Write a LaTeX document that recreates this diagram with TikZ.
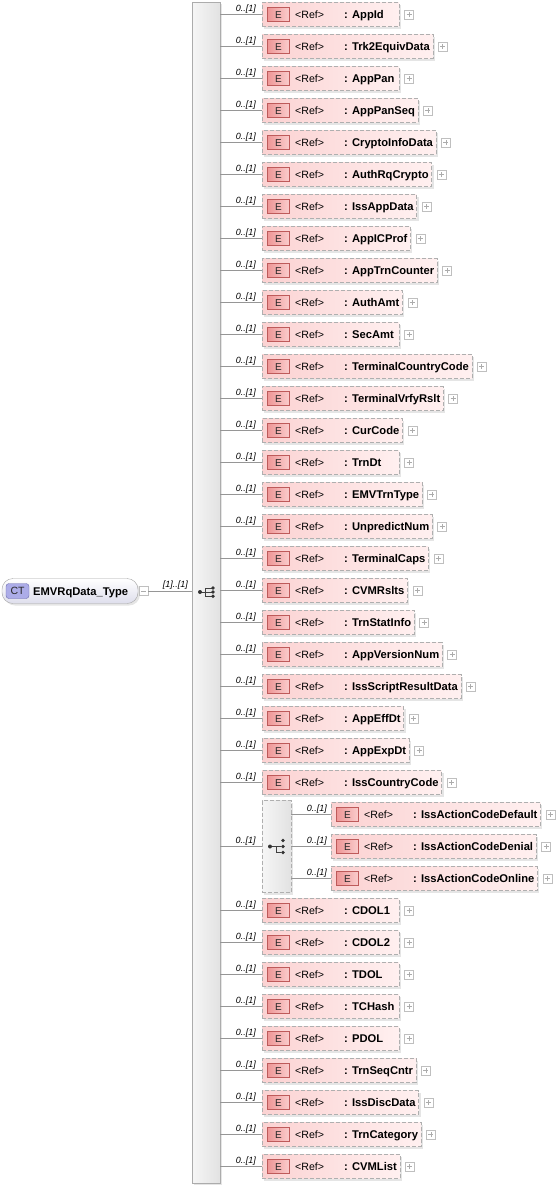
\documentclass[tikz,border=0pt]{standalone}
\usepackage{fontspec}
\setmainfont{Liberation Sans}
\usetikzlibrary{shadows,calc}

\definecolor{boxborder}{RGB}{175,175,175}
\definecolor{pinkL}{RGB}{251,210,210}
\definecolor{pinkR}{RGB}{255,240,240}
\definecolor{badgeL}{RGB}{238,150,150}
\definecolor{badgeR}{RGB}{250,205,205}
\definecolor{badgeborder}{RGB}{190,90,90}
\definecolor{linegray}{RGB}{150,150,150}
\definecolor{barL}{RGB}{246,246,246}
\definecolor{barR}{RGB}{226,226,226}
\definecolor{ctB}{RGB}{222,222,236}
\definecolor{ctbadge}{RGB}{172,172,232}
\definecolor{ctborder}{RGB}{105,105,175}

\newlength\nmw
\newcommand\namefont{\fontsize{11.2}{13}\selectfont\bfseries}
\newcommand\elemtext[1]{\settowidth\nmw{\namefont : #1}\ifdim\nmw<52pt \nmw=52pt\fi
  \hbox to \dimexpr\nmw+85pt\relax{\hspace*{82pt}\namefont : #1\hfil}}

\tikzset{
  elembox/.style={draw=boxborder, dash pattern=on 4pt off 2pt, left color=pinkL, right color=pinkR,
    inner sep=0pt, minimum height=24pt, text height=8.2pt, text depth=0pt, anchor=west,
    drop shadow={shadow xshift=2pt, shadow yshift=-2pt, opacity=0.2, fill=gray}},
  ebadge/.style={draw=badgeborder, left color=badgeL, right color=badgeR, minimum width=22pt,
    minimum height=14pt, inner sep=0pt, text height=7pt, text depth=0pt,
    font=\fontsize{10}{12}\selectfont, text=black!85},
  reftext/.style={inner sep=0pt, anchor=base west, font=\fontsize{10.6}{12}\selectfont},
  cardlbl/.style={inner sep=0pt, anchor=base east, font=\fontsize{9}{10}\selectfont\itshape},
  conn/.style={draw=linegray, line width=0.8pt},
  plusbox/.style={draw=gray!50, fill=white, minimum size=9pt, inner sep=0pt, anchor=west,
    path picture={
      \draw[gray!65, line width=0.6pt] ([xshift=2pt]path picture bounding box.west) -- ([xshift=-2pt]path picture bounding box.east);
      \draw[gray!65, line width=0.6pt] ([yshift=2pt]path picture bounding box.south) -- ([yshift=-2pt]path picture bounding box.north);}},
  minusbox/.style={draw=gray!50, fill=white, minimum size=9pt, inner sep=0pt,
    path picture={
      \draw[gray!65, line width=0.6pt] ([xshift=2pt]path picture bounding box.west) -- ([xshift=-2pt]path picture bounding box.east);}},
  seqbar/.style={draw=gray!65, left color=barL, right color=barR, minimum width=28pt,
    minimum height=1181pt, inner sep=0pt,
    drop shadow={shadow xshift=2pt, shadow yshift=-2pt, opacity=0.2, fill=gray}},
  grpbox/.style={draw=boxborder, dash pattern=on 4pt off 2pt, left color=barL, right color=barR,
    minimum width=29pt, minimum height=92pt, inner sep=0pt,
    drop shadow={shadow xshift=2pt, shadow yshift=-2pt, opacity=0.2, fill=gray}},
  ctbox/.style={draw=gray!70, top color=white, bottom color=ctB, minimum width=136pt,
    minimum height=25pt, rounded corners=11pt, inner sep=0pt,
    drop shadow={shadow xshift=2pt, shadow yshift=-2pt, opacity=0.2, fill=gray}},
  ctbadgestyle/.style={draw=ctborder, fill=ctbadge, rounded corners=3pt, minimum width=23pt,
    minimum height=15pt, inner sep=0pt, text height=7pt, text depth=0pt,
    font=\fontsize{10.5}{12}\selectfont, text=black!85},
  symline/.style={draw=black!75, line width=0.8pt},
}

\begin{document}
\begin{tikzpicture}[x=1pt,y=-1pt]
\useasboundingbox (0,0) rectangle (555,1187);
\fill[white] (0,0) rectangle (555,1187);

% sequence bar
\node[seqbar] (seq) at (206,592.5) {};

% complex type node
\node[ctbox] (ct) at (70,591) {};
\node[ctbadgestyle] (ctb) at (17.5,591) {CT};
\node[inner sep=0pt, anchor=base west] (ctn) at (33,595) {\namefont EMVRqData\_Type};
\node[minusbox] (ctm) at (143.5,591) {};
\draw[conn] (ctm.east) -- (ctm.east -| seq.west);
\node[cardlbl] (ctl) at (188,587.5) {[1]..[1]};

% sequence symbol
\draw[symline] (200,592) -- (205,592);
\draw[symline] (205,588) -- (205,596.3);
\draw[symline] (205,588) -- (212,588);
\draw[symline] (205,592) -- (212,592);
\draw[symline] (205,596.3) -- (212,596.3);
\fill[black!80] (200,592) circle (2pt);
\fill[black!80] (213,588) circle (1.9pt);
\fill[black!80] (213,592) circle (1.9pt);
\fill[black!80] (213,596.3) circle (1.9pt);

% main elements
\foreach \i/\nm in {0/AppId,1/Trk2EquivData,2/AppPan,3/AppPanSeq,4/CryptoInfoData,5/AuthRqCrypto,
  6/IssAppData,7/AppICProf,8/AppTrnCounter,9/AuthAmt,10/SecAmt,11/TerminalCountryCode,
  12/TerminalVrfyRslt,13/CurCode,14/TrnDt,15/EMVTrnType,16/UnpredictNum,17/TerminalCaps,
  18/CVMRslts,19/TrnStatInfo,20/AppVersionNum,21/IssScriptResultData,22/AppEffDt,23/AppExpDt,
  24/IssCountryCode,28/CDOL1,29/CDOL2,30/TDOL,31/TCHash,32/PDOL,33/TrnSeqCntr,34/IssDiscData,
  35/TrnCategory,36/CVMList} {
  \pgfmathsetmacro\yy{14.5+32*\i}
  \node[elembox] (e\i) at (262,\yy) {\elemtext{\nm}};
  \node[ebadge] (b\i) at ([xshift=16.5pt]e\i.west) {E};
  \node[reftext] (r\i) at ([xshift=33pt,yshift=-4pt]e\i.west) {<Ref>};
  \node[plusbox] (p\i) at ([xshift=5pt]e\i.east) {};
  \draw[conn] (e\i.west -| seq.east) -- (e\i.west);
  \node[cardlbl] (c\i) at ([xshift=-6pt,yshift=3.5pt]e\i.west) {0..[1]};
}

% nested group
\node[grpbox] (grp) at (276.5,846.5) {};
\draw[conn] (grp.west -| seq.east) -- (grp.west);
\node[cardlbl] (cgrp) at ([xshift=-6pt,yshift=3.5pt]grp.west) {0..[1]};
% group symbol
\draw[symline] (270,846.5) -- (276,846.5) -- (276,852.5) -- (281,852.5);
\draw[symline] (276,846.5) -- (281,846.5);
\fill[black!80] (270,846.5) circle (2pt);
\fill[black!80] (283,840.5) circle (1.9pt);
\fill[black!80] (283,846.5) circle (1.9pt);
\fill[black!80] (283,852.5) circle (1.9pt);

\foreach \i/\nm in {25/IssActionCodeDefault,26/IssActionCodeDenial,27/IssActionCodeOnline} {
  \pgfmathsetmacro\yy{14.5+32*\i}
  \node[elembox] (e\i) at (331,\yy) {\elemtext{\nm}};
  \node[ebadge] (b\i) at ([xshift=16.5pt]e\i.west) {E};
  \node[reftext] (r\i) at ([xshift=33pt,yshift=-4pt]e\i.west) {<Ref>};
  \node[plusbox] (p\i) at ([xshift=5pt]e\i.east) {};
  \draw[conn] (e\i.west -| grp.east) -- (e\i.west);
  \node[cardlbl] (c\i) at ([xshift=-4pt,yshift=3.5pt]e\i.west) {0..[1]};
}
\end{tikzpicture}
\end{document}
